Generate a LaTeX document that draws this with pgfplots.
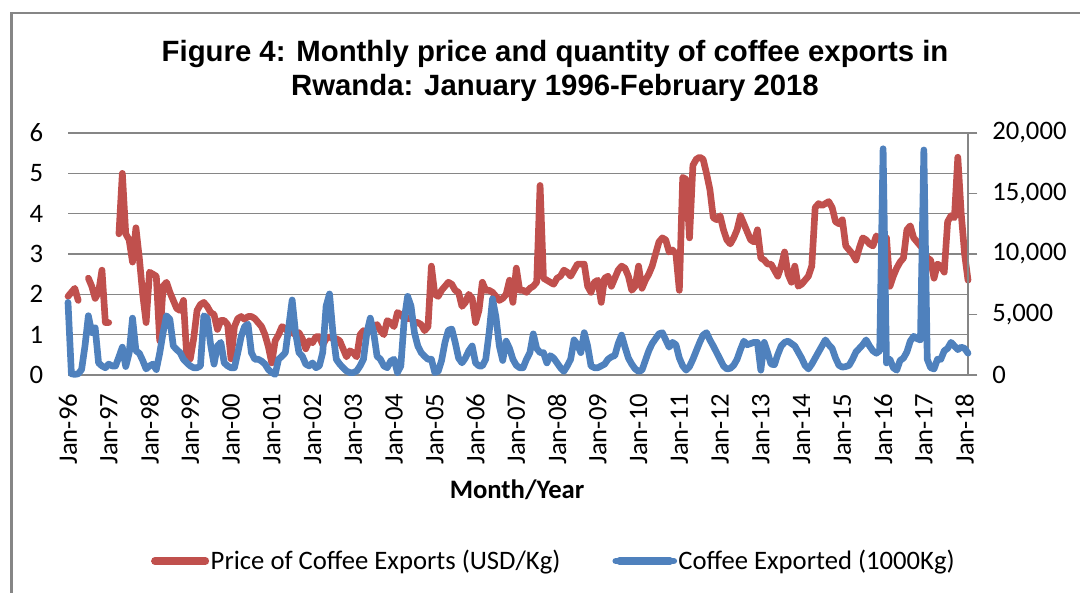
\documentclass[border=0pt]{standalone}
\usepackage{pgfplots}
\pgfplotsset{compat=1.18}
\usepackage{pgfplotstable}
\usepackage{fontspec}
\setmainfont{Carlito}
\newfontfamily\arialfont{Liberation Sans}
\definecolor{cred}{HTML}{C0504D}
\definecolor{cblue}{HTML}{4F81BD}
\definecolor{cgrid}{HTML}{868686}

\pgfplotstableread{
i p q
0 1.95 6000
1 2.05 100
2 2.15 50
3 1.85 100
4 nan 450
5 nan 2400
6 2.4 4900
7 2.2 3500
8 1.9 3900
9 2.05 1000
10 2.6 750
11 1.3 600
12 1.3 900
13 nan 750
14 nan 750
15 3.5 1500
16 5.0 2300
17 3.5 700
18 3.35 1800
19 2.8 4700
20 3.65 2000
21 2.9 1800
22 2.0 1200
23 1.3 500
24 2.55 750
25 2.5 900
26 2.45 450
27 0.85 1800
28 2.2 3500
29 2.3 4900
30 2.05 4600
31 1.85 2400
32 1.65 2100
33 1.6 1850
34 1.85 1300
35 0.4 1000
36 0.4 750
37 0.9 600
38 1.6 600
39 1.75 750
40 1.8 4900
41 1.7 4700
42 1.55 2500
43 1.5 900
44 1.13 2400
45 1.35 2700
46 1.35 1000
47 1.25 750
48 0.4 600
49 1.2 600
50 1.4 1850
51 1.45 3200
52 1.38 4000
53 1.45 4200
54 1.45 1850
55 1.4 1300
56 1.3 1300
57 1.2 1150
58 1.0 900
59 0.7 450
60 0.3 200
61 0.85 50
62 1.0 1300
63 1.2 1550
64 1.15 1850
65 1.05 4000
66 1.05 6200
67 1.0 3500
68 1.05 1850
69 0.9 1550
70 0.65 900
71 0.85 750
72 0.8 1000
73 0.95 600
74 0.95 750
75 0.75 1850
76 0.9 5700
77 0.95 6700
78 0.9 3500
79 0.9 1300
80 0.85 900
81 0.65 600
82 0.45 330
83 0.6 200
84 0.55 200
85 0.45 330
86 1.0 750
87 1.1 1300
88 1.05 3500
89 1.1 4700
90 1.2 3500
91 1.25 1550
92 1.1 1300
93 1.0 750
94 1.35 600
95 1.3 1150
96 1.2 1300
97 1.55 200
98 1.5 750
99 1.4 4600
100 1.4 6500
101 1.4 5700
102 1.3 3500
103 1.3 2400
104 1.25 1850
105 1.1 1550
106 1.2 1300
107 2.7 1300
108 2.0 200
109 1.95 300
110 2.1 1200
111 2.2 2700
112 2.3 3700
113 2.25 3800
114 2.1 2700
115 2.05 1400
116 1.7 1000
117 1.8 1400
118 2.0 2000
119 1.9 2400
120 1.3 1000
121 1.6 750
122 2.3 750
123 2.1 1300
124 2.1 3500
125 2.05 6300
126 1.95 4800
127 1.85 2400
128 1.9 1200
129 2.0 2800
130 2.35 2200
131 1.8 1300
132 2.65 800
133 2.1 600
134 2.1 600
135 2.05 1300
136 2.15 1850
137 2.2 3400
138 2.3 2200
139 4.7 1850
140 2.4 1850
141 2.35 1000
142 2.3 1600
143 2.25 1400
144 2.4 1000
145 2.45 600
146 2.6 300
147 2.55 750
148 2.45 1300
149 2.6 2900
150 2.75 2500
151 2.75 1850
152 2.75 3500
153 2.2 2400
154 2.05 750
155 2.3 600
156 2.35 600
157 1.8 750
158 2.4 900
159 2.45 1300
160 2.2 1500
161 2.4 1600
162 2.6 2600
163 2.7 3300
164 2.65 2300
165 2.45 1400
166 2.1 900
167 2.2 500
168 2.7 300
169 2.15 400
170 2.35 1200
171 2.5 2000
172 2.7 2600
173 3.0 3000
174 3.3 3400
175 3.4 3500
176 3.35 2900
177 3.05 2300
178 3.1 2700
179 3.0 2500
180 2.1 1400
181 4.9 750
182 4.85 400
183 3.4 700
184 5.2 1300
185 5.35 2000
186 5.4 2700
187 5.35 3300
188 5.0 3500
189 4.6 2900
190 3.9 2400
191 3.85 1850
192 3.95 1300
193 3.6 750
194 3.35 500
195 3.25 550
196 3.4 800
197 3.6 1300
198 3.95 2100
199 3.75 2800
200 3.55 2500
201 3.35 2600
202 3.3 2700
203 3.6 2700
204 2.9 400
205 2.85 2700
206 2.75 1850
207 2.75 900
208 2.6 850
209 2.45 1700
210 2.7 2400
211 3.05 2700
212 2.5 2800
213 2.3 2600
214 2.7 2400
215 2.2 1900
216 2.25 1400
217 2.35 800
218 2.45 500
219 2.7 900
220 4.15 1400
221 4.25 1900
222 4.2 2400
223 4.25 2900
224 4.3 2500
225 4.15 2200
226 3.8 1400
227 3.75 800
228 3.85 650
229 3.2 700
230 3.1 800
231 3.0 1300
232 2.85 1900
233 3.15 2200
234 3.4 2500
235 3.35 2900
236 3.25 2400
237 3.2 2000
238 3.45 1800
239 3.35 2000
240 3.3 18700
241 3.4 1000
242 2.2 1300
243 2.45 600
244 2.65 400
245 2.8 1200
246 2.9 1400
247 3.6 1900
248 3.7 2800
249 3.4 3200
250 3.3 3000
251 3.2 2900
252 3.1 18600
253 2.9 1300
254 2.85 600
255 2.4 500
256 2.75 1300
257 2.7 1300
258 2.55 2000
259 3.8 2200
260 3.95 2700
261 3.9 2400
262 5.4 2100
263 4.0 2300
264 3.0 2200
265 2.35 1800
}\data

\begin{document}
\begin{tikzpicture}
\useasboundingbox (0,0) rectangle (810pt,-444pt);
\draw[cgrid, line width=1.6pt] (8.625pt,-9.75pt) rectangle (830pt,-460pt);

\node[anchor=base, font=\arialfont\bfseries\fontsize{22}{26}\selectfont] at (416.25pt,-46.5pt) {Figure 4: Monthly price and quantity of coffee exports in};
\node[anchor=base, font=\arialfont\bfseries\fontsize{22}{26}\selectfont] at (416.25pt,-71.25pt) {Rwanda: January 1996-February 2018};
\node[anchor=base, font=\bfseries\fontsize{20}{24}\selectfont] at (387.75pt,-373.5pt) {Month/Year};

\begin{axis}[
  at={(51pt,-281.25pt)}, anchor=south west,
  scale only axis, width=675pt, height=181.5pt,
  xmin=0, xmax=265, ymin=0, ymax=6,
  axis x line*=bottom, axis y line*=left,
  y axis line style={draw=none},
  x axis line style={cgrid, line width=1.2pt, -},
  major tick length=0pt,
  ytick={0,1,2,3,4,5,6},
  yticklabels={0,1,2,3,4,5,6},
  ymajorgrids, grid style={cgrid, line width=1.2pt},
  xtick={0,12,...,264},
  xticklabels={Jan-96,Jan-97,Jan-98,Jan-99,Jan-00,Jan-01,Jan-02,Jan-03,Jan-04,Jan-05,Jan-06,Jan-07,Jan-08,Jan-09,Jan-10,Jan-11,Jan-12,Jan-13,Jan-14,Jan-15,Jan-16,Jan-17,Jan-18},
  tick label style={font=\fontsize{20}{24}\selectfont},
  xticklabel style={rotate=90, anchor=east, inner sep=0pt, xshift=-14pt},
  yticklabel style={anchor=east, inner sep=0pt, xshift=-18.5pt},
  unbounded coords=jump,
  clip=false,
]
\addplot[cred, line width=5pt, line join=round, line cap=round] table[x=i, y=p] {\data};
\end{axis}

\begin{axis}[
  at={(51pt,-281.25pt)}, anchor=south west,
  scale only axis, width=675pt, height=181.5pt,
  xmin=0, xmax=265, ymin=0, ymax=20000,
  hide x axis,
  axis y line*=right,
  y axis line style={cgrid, line width=1.2pt, -},
  ytick={0,5000,10000,15000,20000},
  yticklabels={0,{5,000},{10,000},{15,000},{20,000}},
  scaled y ticks=false,
  tick style={cgrid, line width=1.2pt},
  tick align=outside, major tick length=7pt,
  tick label style={font=\fontsize{20}{24}\selectfont},
  yticklabel style={anchor=west, inner sep=0pt, xshift=11pt},
  clip=false,
  legend style={at={(0.5394,-0.7686)}, anchor=center, draw=none, fill=none,
    legend columns=2, font=\fontsize{20}{24}\selectfont,
    nodes={inner sep=1pt},
    /tikz/every even column/.append style={column sep=38pt}},
  legend image code/.code={\path (0pt,0pt) -- (43.5pt,0pt);\draw[#1, line width=5.5pt, line cap=round] (2.75pt,0pt) -- (40.75pt,0pt);},
]
\addlegendimage{cred}
\addlegendentry{Price of Coffee Exports (USD/Kg)}
\addplot[cblue, line width=5pt, line join=round, line cap=round] table[x=i, y=q] {\data};
\addlegendentry{Coffee Exported (1000Kg)}
\end{axis}
\end{tikzpicture}
\end{document}
